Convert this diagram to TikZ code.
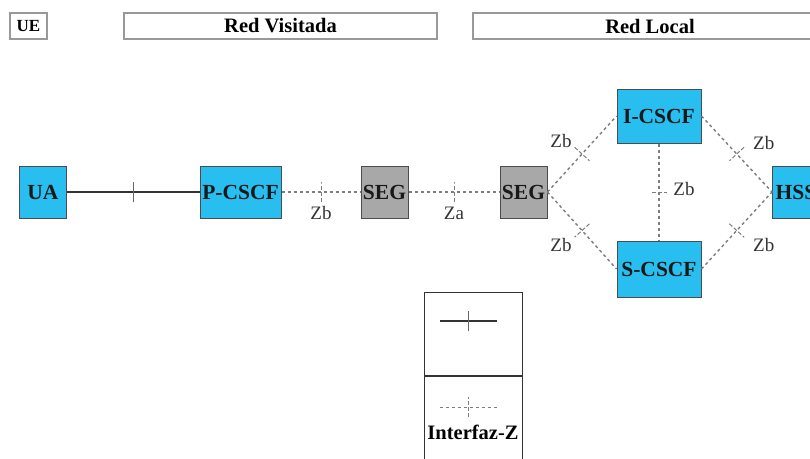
\documentclass[tikz,border=0pt]{standalone}
\usepackage{fontspec}
\setmainfont{Liberation Serif}
\usetikzlibrary{positioning}

\definecolor{nodeblue}{RGB}{40,190,240}
\definecolor{seggray}{RGB}{168,168,168}
\definecolor{linkgray}{RGB}{125,125,125}

\tikzset{
  elem/.style={draw=black!70, fill=nodeblue, line width=1pt, minimum height=52, inner sep=0pt,
    text=black!90, font=\fontsize{21.5}{21.5}\selectfont\bfseries},
  segbox/.style={elem, fill=seggray, minimum width=47},
  region/.style={draw=black!40, line width=1.4pt, minimum height=26, inner sep=0pt,
    font=\fontsize{20.5}{20.5}\selectfont\bfseries},
  uline/.style={black!80, line width=1.6pt},
  zline/.style={linkgray, line width=1.4pt, dash pattern=on 3pt off 3pt},
  tick/.style={draw=linkgray, line width=1pt, minimum width=0pt, minimum height=20,
    inner sep=0pt, sloped, pos=.5},
  zlabel/.style={text=black!80, font=\fontsize{19}{19}\selectfont, inner sep=0pt, pos=.5},
}

\begin{document}
\begin{tikzpicture}[x=1pt,y=-1pt]
\useasboundingbox (0,0) rectangle (810,458);
\clip (0,0) rectangle (810,458);

% dominios
\node [region, minimum width=37, font=\fontsize{17}{17}\selectfont\bfseries, name=ue] at (28.5,26) {UE};
\node [region, minimum width=313, name=visit] at (280.5,26) {Red Visitada};
\node [region, minimum width=354, name=local] at (650,26) {Red Local};

% elementos
\node [elem, minimum width=47, name=ua]        at (43,192) {UA};
\node [elem, minimum width=81, name=pcscf]     at (240.5,192) {P-CSCF};
\node [segbox, name=seg1]                      at (384.5,192) {SEG};
\node [segbox, name=seg2]                      at (523.5,192) {SEG};
\node [elem, minimum width=84, minimum height=54, name=icscf] at (659,116) {I-CSCF};
\node [elem, minimum width=84, minimum height=56, name=scscf] at (659,269) {S-CSCF};
\node [elem, minimum width=47, name=hss]       at (796,192) {HSS};

% interfaces
\draw [uline] (ua) -- node[tick, draw=black!60]{} (pcscf);
\draw [zline] (pcscf) -- node[tick]{} node[zlabel, yshift=-21]{Zb} (seg1);
\draw [zline] (seg1) -- node[tick]{} node[zlabel, yshift=-21]{Za} (seg2);
\draw [zline] (seg2.east) -- node[tick]{} node[zlabel, xshift=-21, yshift=13]{Zb} (icscf.west);
\draw [zline] (seg2.east) -- node[tick]{} node[zlabel, xshift=-21, yshift=-14]{Zb} (scscf.west);
\draw [zline] (icscf.east) -- node[tick]{} node[zlabel, xshift=27, yshift=11]{Zb} (hss.west);
\draw [zline] (scscf.east) -- node[tick]{} node[zlabel, xshift=27, yshift=-14]{Zb} (hss.west);
\draw [zline] (icscf) -- node[tick, minimum height=16]{} node[zlabel, xshift=25, yshift=3]{Zb} (scscf);

% leyenda
\node [draw=black!80, line width=1pt, minimum width=98, minimum height=83, name=key1] at (473,333.5) {};
\node [draw=black!80, line width=1pt, minimum width=98, minimum height=100, name=key2, anchor=north] at (key1.south) {};
\coordinate (k1a) at (440,321);
\coordinate (k1b) at (497,321);
\coordinate (k2a) at (440,407);
\coordinate (k2b) at (497,407);
\draw [uline] (k1a) -- node[tick, draw=black!60]{} (k1b);
\draw [zline, line width=1pt] (k2a) -- node[tick]{} (k2b);
\node [font=\fontsize{20.5}{20.5}\selectfont\bfseries, name=ztxt] at (473,432) {Interfaz-Z};
\end{tikzpicture}
\end{document}
